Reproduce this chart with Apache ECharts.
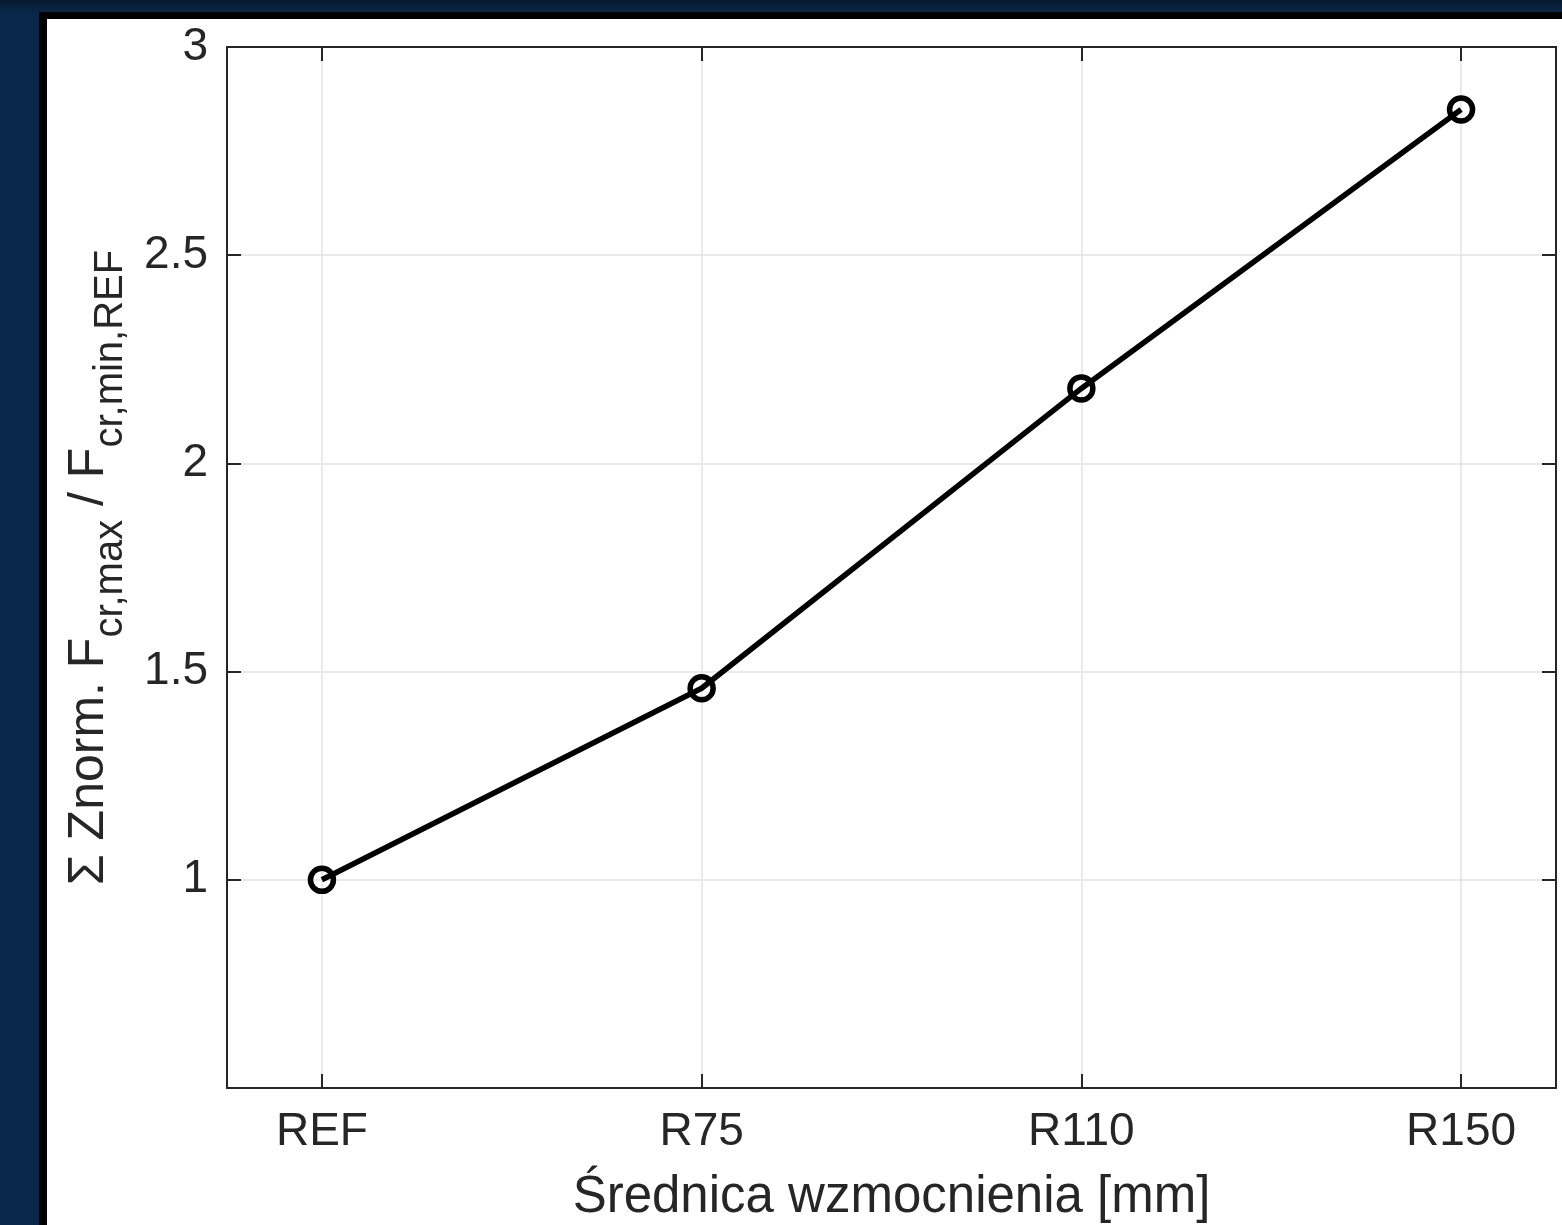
<!DOCTYPE html>
<html>
<head>
<meta charset="utf-8">
<script src="https://cdn.jsdelivr.net/npm/echarts@6/dist/echarts.min.js"></script>
<style>
  html, body { margin: 0; padding: 0; width: 1562px; height: 1225px; overflow: hidden; }
  body { background: linear-gradient(to bottom, #071a30 0px, #0a284a 14px, #0a284a 100%); position: relative; }
  #frame { position: absolute; left: 39px; top: 12px; right: 0; bottom: 0; background: #000; }
  #paper { position: absolute; left: 47px; top: 19px; right: 0; bottom: 0; background: #fff; }
  #chart { position: absolute; left: 0; top: 0; width: 1562px; height: 1225px; }
</style>
</head>
<body>
<div id="frame"></div>
<div id="paper"></div>
<div id="chart"></div>
<script>
// ---- data ----
const categories = ['REF', 'R75', 'R110', 'R150'];
const values = [1.00, 1.46, 2.18, 2.85];
const yTicks = [1, 1.5, 2, 2.5, 3];
const xLabel = 'Średnica wzmocnienia [mm]';

const axisColor = '#262626';
const gridColor = '#e3e3e3';
const font = 'Liberation Sans, Arial, Helvetica, sans-serif';
const xIdx = categories.map((c, i) => i);

const chart = echarts.init(document.getElementById('chart'), null, { renderer: 'canvas' });

const commonX = {
  type: 'value', min: -0.25, max: 3.25,
  axisLine: { show: true, onZero: false, lineStyle: { color: axisColor, width: 2 } },
};
const commonY = {
  type: 'value', min: 0.5, max: 3, interval: 0.5,
  axisLine: { show: true, onZero: false, lineStyle: { color: axisColor, width: 2 } },
};

chart.setOption({
  animation: false,
  backgroundColor: 'transparent',
  grid: { left: 227, top: 47, right: 6, bottom: 137, containLabel: false, outerBoundsMode: 'none' },
  xAxis: [
    Object.assign({}, commonX, {
      position: 'bottom',
      name: xLabel, nameLocation: 'middle', nameGap: 84,
      nameTextStyle: { fontFamily: font, fontSize: 51, color: axisColor },
      axisTick: { show: true, inside: true, length: 14, customValues: xIdx, lineStyle: { color: axisColor, width: 2 } },
      axisLabel: { show: true, customValues: xIdx, margin: 21, fontFamily: font, fontSize: 46, color: axisColor,
        formatter: v => categories[Math.round(v)] || '' },
      splitLine: { show: true, customValues: xIdx, lineStyle: { color: gridColor, width: 1.5 } }
    }),
    Object.assign({}, commonX, {
      position: 'top',
      axisTick: { show: true, inside: true, length: 14, customValues: xIdx, lineStyle: { color: axisColor, width: 2 } },
      axisLabel: { show: false },
      splitLine: { show: false }
    })
  ],
  yAxis: [
    Object.assign({}, commonY, {
      position: 'left',
      name: '{m|Σ Znorm. F}{s|cr,max}{m| / F}{s|cr,min,REF}',
      nameLocation: 'middle', nameRotate: 90, nameGap: 96,
      nameTextStyle: {
        fontFamily: font, color: axisColor,
        rich: {
          m: { fontFamily: font, fontSize: 50, color: axisColor, lineHeight: 84, verticalAlign: 'middle' },
          s: { fontFamily: font, fontSize: 40, color: axisColor, lineHeight: 40, verticalAlign: 'bottom' }
        }
      },
      axisTick: { show: true, inside: true, length: 14, lineStyle: { color: axisColor, width: 2 } },
      axisLabel: { show: true, margin: 19, fontFamily: font, fontSize: 46, color: axisColor,
        formatter: v => (yTicks.indexOf(Math.round(v * 10) / 10) >= 0 ? String(v) : '') },
      splitLine: { show: true, lineStyle: { color: gridColor, width: 1.5 } }
    }),
    Object.assign({}, commonY, {
      position: 'right',
      axisTick: { show: true, inside: true, length: 14, lineStyle: { color: axisColor, width: 2 } },
      axisLabel: { show: false },
      splitLine: { show: false }
    })
  ],
  series: [{
    type: 'line',
    xAxisIndex: 0, yAxisIndex: 0,
    data: values.map((v, i) => [xIdx[i], v]),
    symbol: 'circle', symbolSize: 23,
    lineStyle: { color: '#000', width: 5.5 },
    itemStyle: { color: 'rgba(0,0,0,0)', borderColor: '#000', borderWidth: 5.5 },
    emphasis: { disabled: true },
    z: 5
  }]
});
</script>
</body>
</html>
